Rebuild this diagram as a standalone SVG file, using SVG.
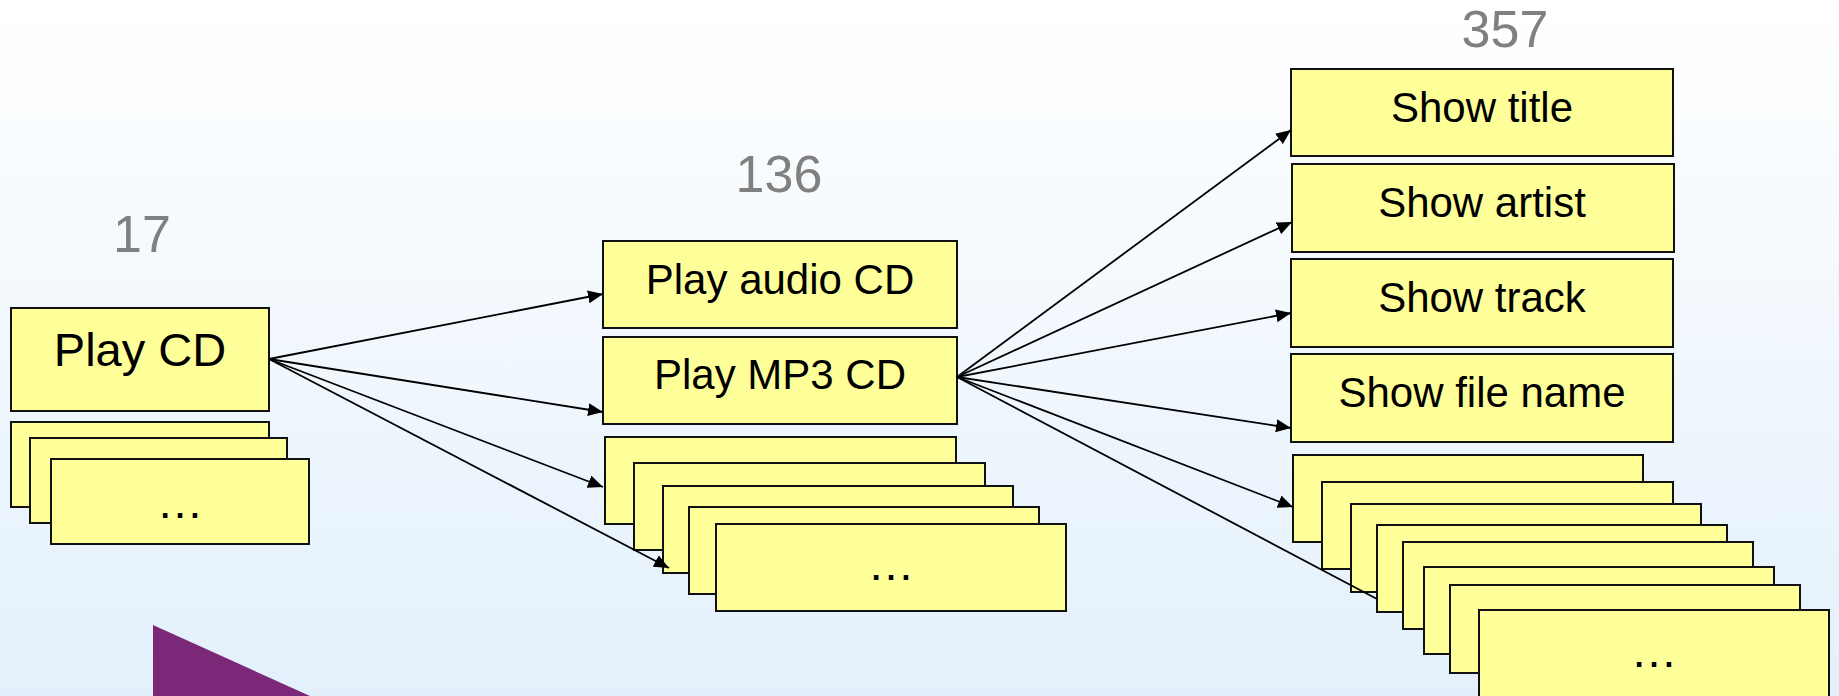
<svg xmlns="http://www.w3.org/2000/svg" width="1839" height="696" viewBox="0 0 1839 696">
<defs>
<linearGradient id="bg" x1="0" y1="0" x2="0" y2="1">
<stop offset="0" stop-color="#FFFFFF"/>
<stop offset="1" stop-color="#E3F0FB"/>
</linearGradient>
<marker id="arr" markerUnits="userSpaceOnUse" markerWidth="16" markerHeight="13" refX="15" refY="6.5" orient="auto">
<path d="M0,0 L15,6.5 L0,13 z" fill="#000"/>
</marker>
</defs>
<style>
.box{fill:#FFFF99;stroke:#111;stroke-width:2}
.t{font-family:"Liberation Sans",Arial,sans-serif;fill:#000;text-anchor:middle}
.dots{font-family:"Liberation Sans",Arial,sans-serif;fill:#000;text-anchor:middle;font-size:47px}
.num{font-family:"Liberation Sans",Arial,sans-serif;fill:#808080;text-anchor:middle;font-size:52px}
.c{stroke:#000;stroke-width:1.8;fill:none}
.ca{stroke:#000;stroke-width:1.8;fill:none;marker-end:url(#arr)}
</style>
<rect x="0" y="0" width="1839" height="696" fill="url(#bg)"/>
<polygon points="153,625 310,696 153,696" fill="#7B2878"/>

<text class="num" x="142" y="252">17</text>
<text class="num" x="779" y="192">136</text>
<text class="num" x="1505" y="47" font-size="53">357</text>

<g id="play-cd">
<rect class="box" x="11" y="308" width="258" height="103"/>
<text class="t" x="140" y="366" font-size="47">Play CD</text>
</g>
<g id="level1-more">
<rect class="box" x="11" y="422" width="258" height="85"/>
<rect class="box" x="30" y="438" width="257" height="85"/>
<rect class="box" x="51" y="459" width="258" height="85"/>
<text class="dots" x="180" y="518">…</text>
</g>

<g id="play-audio-cd">
<rect class="box" x="603" y="241" width="354" height="87"/>
<text class="t" x="780" y="294" font-size="42">Play audio CD</text>
</g>
<g id="play-mp3-cd">
<rect class="box" x="603" y="337" width="354" height="87"/>
<text class="t" x="780" y="389" font-size="42">Play MP3 CD</text>
</g>
<g id="level2-more">
<rect class="box" x="605" y="437" width="351" height="87"/>
<rect class="box" x="634" y="463" width="351" height="87"/>
<rect class="box" x="663" y="486" width="350" height="87"/>
<rect class="box" x="689" y="507" width="350" height="87"/>
<rect class="box" x="716" y="524" width="350" height="87"/>
<text class="dots" x="891" y="580">…</text>
</g>

<g id="show-title">
<rect class="box" x="1291" y="69" width="382" height="87"/>
<text class="t" x="1482" y="122" font-size="42">Show title</text>
</g>
<g id="show-artist">
<rect class="box" x="1292" y="164" width="382" height="88"/>
<text class="t" x="1482" y="217" font-size="42">Show artist</text>
</g>
<g id="show-track">
<rect class="box" x="1291" y="259" width="382" height="88"/>
<text class="t" x="1482" y="312" font-size="42">Show track</text>
</g>
<g id="show-file-name">
<rect class="box" x="1291" y="354" width="382" height="88"/>
<text class="t" x="1482" y="407" font-size="42">Show file name</text>
</g>
<g id="level3-more">
<rect class="box" x="1293" y="455" width="350" height="87"/>
<rect class="box" x="1322" y="482" width="351" height="87"/>
<rect class="box" x="1351" y="504" width="350" height="88"/>
<rect class="box" x="1377" y="525" width="350" height="87"/>
<rect class="box" x="1403" y="542" width="350" height="87"/>
<rect class="box" x="1424" y="567" width="350" height="87"/>
<rect class="box" x="1450" y="585" width="350" height="88"/>
<rect class="box" x="1479" y="610" width="350" height="90"/>
<text class="dots" x="1654" y="667">…</text>
</g>

<g id="connectors">
<line class="ca" x1="269" y1="359" x2="603" y2="294"/>
<line class="ca" x1="269" y1="359" x2="603" y2="412"/>
<line class="ca" x1="269" y1="359" x2="603" y2="487"/>
<line class="ca" x1="269" y1="359" x2="669" y2="568"/>
<line class="ca" x1="957" y1="377" x2="1291" y2="130"/>
<line class="ca" x1="957" y1="377" x2="1292" y2="222"/>
<line class="ca" x1="957" y1="377" x2="1291" y2="313"/>
<line class="ca" x1="957" y1="377" x2="1291" y2="428"/>
<line class="ca" x1="957" y1="377" x2="1293" y2="507"/>
<line class="c" x1="957" y1="377" x2="1377" y2="599"/>
</g>
</svg>
